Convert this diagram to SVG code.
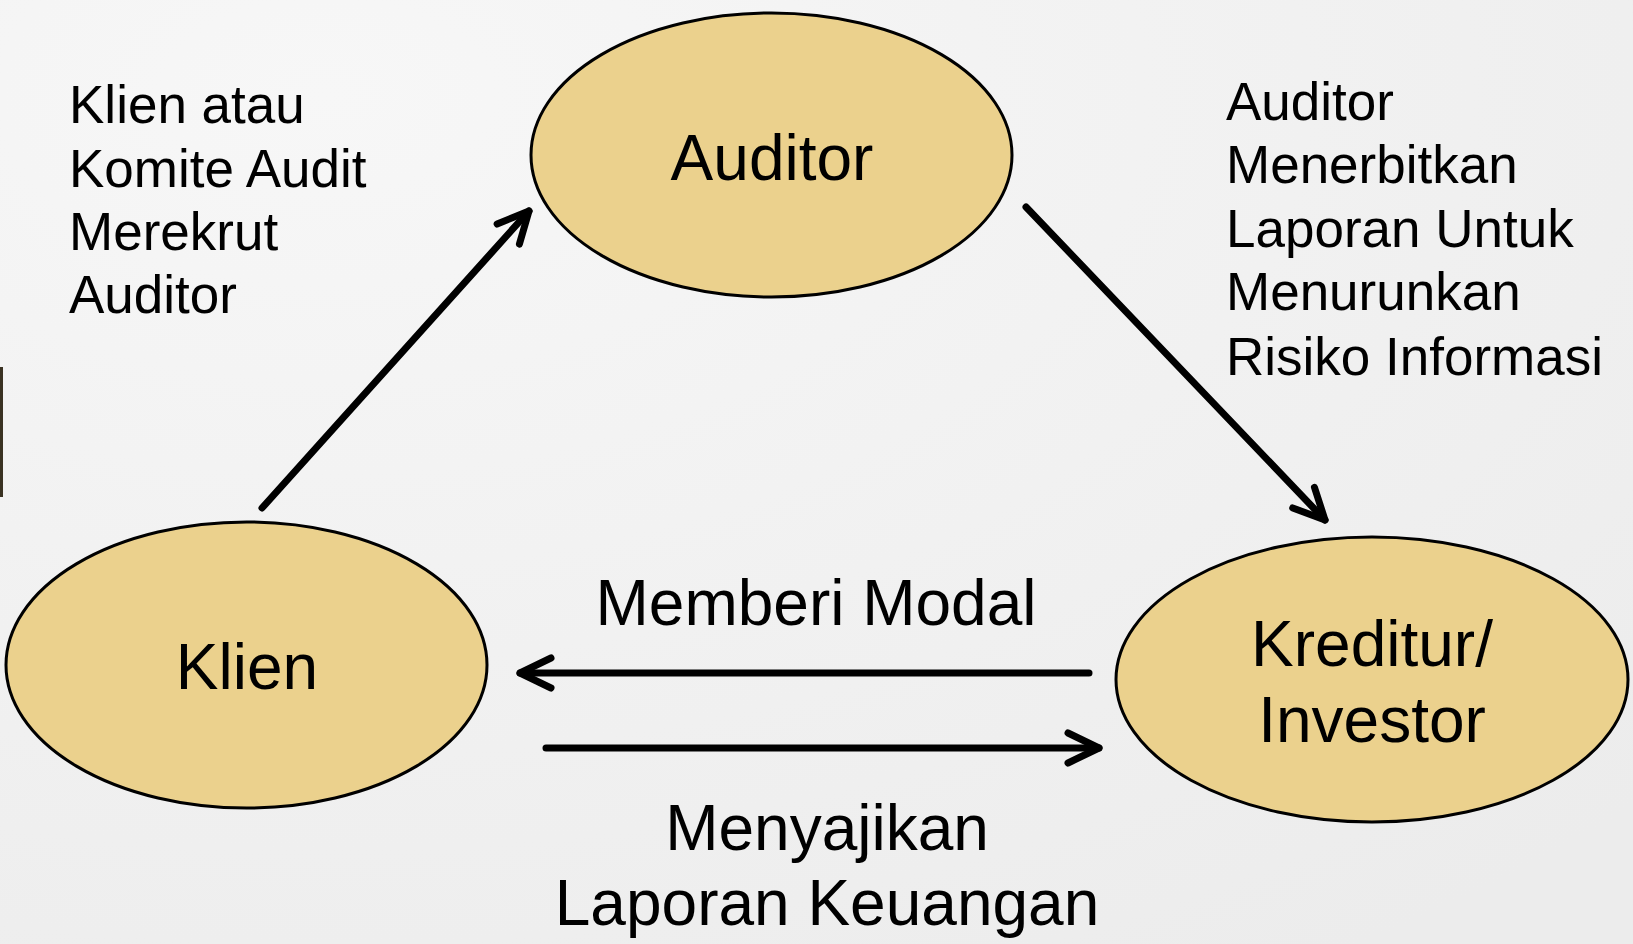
<svg xmlns="http://www.w3.org/2000/svg" width="1633" height="944" viewBox="0 0 1633 944">
  <style>
    .node { fill: #ebd18d; stroke: #000; stroke-width: 3; }
    .label { font-family: "Liberation Sans", Arial, sans-serif; fill: #000; }
    .big { font-size: 64px; text-anchor: middle; }
    .side { font-size: 53px; }
    .conn { stroke: #000; stroke-width: 7; stroke-linecap: round; fill: none; }
  </style>
  <defs>
    <radialGradient id="bg" cx="0.2" cy="0.1" r="1.1">
      <stop offset="0" stop-color="#f7f7f7"/>
      <stop offset="1" stop-color="#ececec"/>
    </radialGradient>
    <marker id="arrow" viewBox="-40 -20 46 40" refX="0" refY="0" markerWidth="46" markerHeight="40" markerUnits="userSpaceOnUse" orient="auto">
      <path d="M -31 -15 L 0 0 L -31 15" fill="none" stroke="#000" stroke-width="7" stroke-linecap="round" stroke-linejoin="round"/>
    </marker>
  </defs>

  <rect x="0" y="0" width="1633" height="944" fill="url(#bg)"/>
  <rect x="0" y="367" width="3" height="130" fill="#3a3222"/>

  <g id="connectors">
    <line class="conn" x1="262" y1="508" x2="529" y2="211" marker-end="url(#arrow)"/>
    <line class="conn" x1="1026" y1="207" x2="1325" y2="520" marker-end="url(#arrow)"/>
    <line class="conn" x1="1089" y1="673" x2="520" y2="673" marker-end="url(#arrow)"/>
    <line class="conn" x1="546" y1="748" x2="1099" y2="748" marker-end="url(#arrow)"/>
  </g>

  <g id="node-auditor">
    <ellipse class="node" cx="771.5" cy="155" rx="240.5" ry="142"/>
    <text class="label big" x="772" y="180">Auditor</text>
  </g>

  <g id="node-klien">
    <ellipse class="node" cx="246.5" cy="665" rx="240.5" ry="143"/>
    <text class="label big" x="247" y="689">Klien</text>
  </g>

  <g id="node-kreditur">
    <ellipse class="node" cx="1372" cy="679.5" rx="256" ry="142.5"/>
    <text class="label big" x="1372" y="666">Kreditur/</text>
    <text class="label big" x="1372" y="742">Investor</text>
  </g>

  <g id="label-klien-merekrut">
    <text class="label side" x="69" y="123">Klien atau</text>
    <text class="label side" x="69" y="187">Komite Audit</text>
    <text class="label side" x="69" y="250">Merekrut</text>
    <text class="label side" x="69" y="313">Auditor</text>
  </g>

  <g id="label-auditor-menerbitkan">
    <text class="label side" x="1226" y="120">Auditor</text>
    <text class="label side" x="1226" y="183">Menerbitkan</text>
    <text class="label side" x="1226" y="247">Laporan Untuk</text>
    <text class="label side" x="1226" y="310">Menurunkan</text>
    <text class="label side" x="1226" y="375">Risiko Informasi</text>
  </g>

  <g id="label-memberi-modal">
    <text class="label big" x="816" y="625">Memberi Modal</text>
  </g>

  <g id="label-menyajikan">
    <text class="label big" x="827" y="850">Menyajikan</text>
    <text class="label big" x="827" y="925">Laporan Keuangan</text>
  </g>
</svg>
